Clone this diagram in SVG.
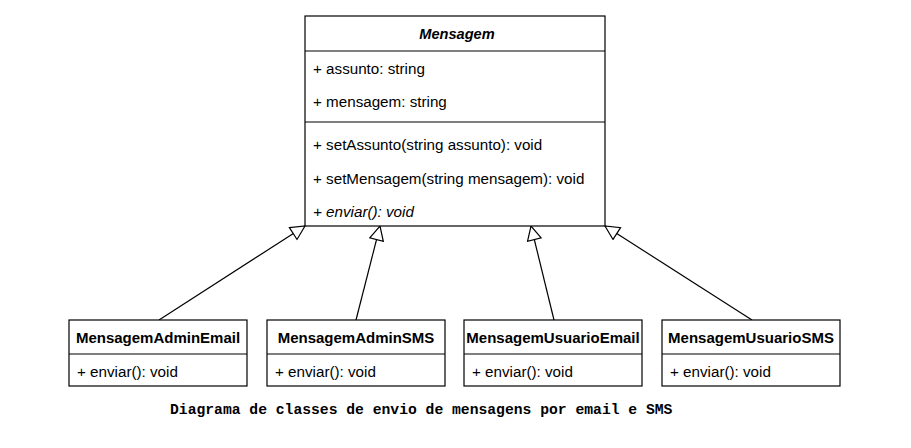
<svg xmlns="http://www.w3.org/2000/svg" width="911" height="448" viewBox="0 0 911 448">
<defs>
<style>
.box{fill:#fff;stroke:#000;stroke-width:1.2}
.sep{stroke:#000;stroke-width:1.2}
.t{font-family:"Liberation Sans",Arial,sans-serif;font-size:15.2px;fill:#000}
.h{font-weight:bold;text-anchor:middle;font-size:15px}
.i{font-style:italic}
.ti{font-size:14.6px}
.conn{stroke:#000;stroke-width:1.2;fill:none;marker-end:url(#tri)}
.cap{font-family:"Liberation Mono","Courier New",monospace;font-weight:bold;font-size:14.7px;fill:#000}
</style>
<marker id="tri" viewBox="0 0 16 16" refX="15" refY="8" markerWidth="16" markerHeight="16" markerUnits="userSpaceOnUse" orient="auto">
<path d="M1,1 L15,8 L1,15 Z" fill="#fff" stroke="#000" stroke-width="1.2"/>
</marker>
</defs>
<rect width="911" height="448" fill="#fff"/>
<g id="connectors">
<line class="conn" x1="159" y1="320" x2="305" y2="226"/>
<line class="conn" x1="356" y1="320" x2="380" y2="226"/>
<line class="conn" x1="554" y1="320" x2="531" y2="226"/>
<line class="conn" x1="752" y1="320" x2="605" y2="226"/>
</g>
<g id="Mensagem">
<rect class="box" x="305" y="16" width="300" height="210"/>
<line class="sep" x1="305" y1="51" x2="605" y2="51"/>
<line class="sep" x1="305" y1="122" x2="605" y2="122"/>
<text class="t h i ti" x="457" y="39">Mensagem</text>
<text class="t" x="313" y="74">+ assunto: string</text>
<text class="t" x="313" y="107">+ mensagem: string</text>
<text class="t" x="313" y="150">+ setAssunto(string assunto): void</text>
<text class="t" x="313" y="184">+ setMensagem(string mensagem): void</text>
<text class="t i" x="313" y="217">+ enviar(): void</text>
</g>
<g id="MensagemAdminEmail">
<rect class="box" x="69" y="320" width="178" height="66"/>
<line class="sep" x1="69" y1="354" x2="247" y2="354"/>
<text class="t h" x="158" y="343">MensagemAdminEmail</text>
<text class="t" x="77" y="377">+ enviar(): void</text>
</g>
<g id="MensagemAdminSMS">
<rect class="box" x="267" y="320" width="178" height="66"/>
<line class="sep" x1="267" y1="354" x2="445" y2="354"/>
<text class="t h" x="356" y="343">MensagemAdminSMS</text>
<text class="t" x="275" y="377">+ enviar(): void</text>
</g>
<g id="MensagemUsuarioEmail">
<rect class="box" x="464" y="320" width="178" height="66"/>
<line class="sep" x1="464" y1="354" x2="642" y2="354"/>
<text class="t h" x="553" y="343">MensagemUsuarioEmail</text>
<text class="t" x="472" y="377">+ enviar(): void</text>
</g>
<g id="MensagemUsuarioSMS">
<rect class="box" x="662" y="320" width="178" height="66"/>
<line class="sep" x1="662" y1="354" x2="840" y2="354"/>
<text class="t h" x="751" y="343">MensagemUsuarioSMS</text>
<text class="t" x="670" y="377">+ enviar(): void</text>
</g>
<text class="cap" x="170" y="414">Diagrama de classes de envio de mensagens por email e SMS</text>
</svg>
